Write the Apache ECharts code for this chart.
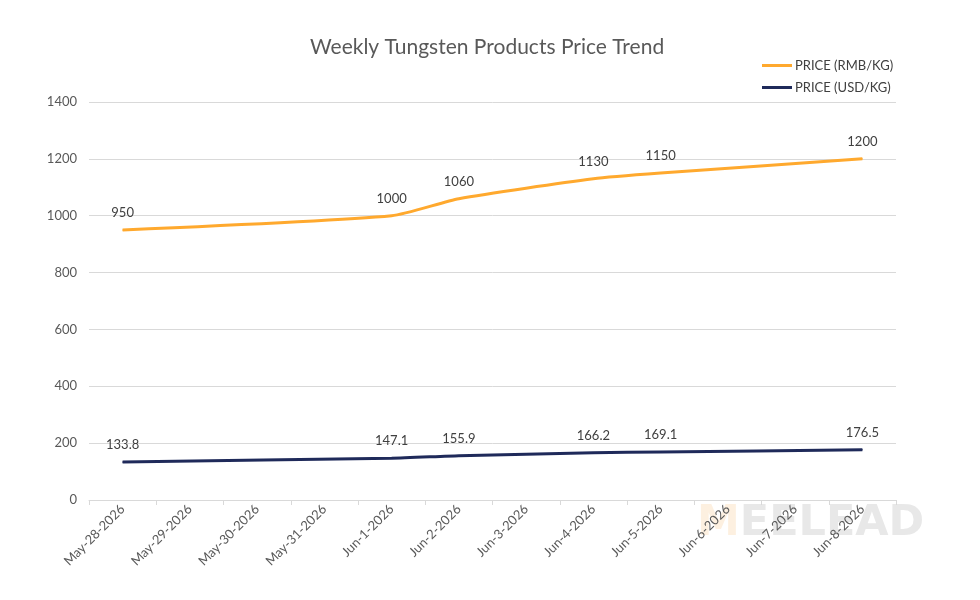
<!DOCTYPE html>
<html>
<head>
<meta charset="utf-8">
<script src="https://cdn.jsdelivr.net/npm/echarts@6/dist/echarts.min.js"></script>
<style>
  html, body { margin: 0; padding: 0; background: #fff; }
  #main { width: 980px; height: 600px; }
</style>
</head>
<body>
<div id="main"></div>
<script>
// 日期（x轴）
var dates = ['May-28-2026', 'May-29-2026', 'May-30-2026', 'May-31-2026', 'Jun-1-2026', 'Jun-2-2026',
             'Jun-3-2026', 'Jun-4-2026', 'Jun-5-2026', 'Jun-6-2026', 'Jun-7-2026', 'Jun-8-2026'];
// 人民币价格，没有报价的日期为 null
var rmbPrice = [950, null, null, null, 1000, 1060, null, 1130, 1150, null, null, 1200];
// 美元价格
var usdPrice = [133.8, null, null, null, 147.1, 155.9, null, 166.2, 169.1, null, null, 176.5];
var yTicks = [0, 200, 400, 600, 800, 1000, 1200, 1400];

var myChart = echarts.init(document.getElementById('main'));

var font = 'Lato, "Open Sans", sans-serif';

var option = {
    backgroundColor: '#fff',
    textStyle: { fontFamily: font },
    title: {
        text: 'Weekly Tungsten Products Price Trend',
        left: 305,
        top: 32,
        textStyle: { fontFamily: font, fontSize: 21, fontWeight: 'normal', color: '#595959' }
    },
    legend: {
        orient: 'vertical',
        left: 757,
        top: 54,
        itemGap: 9,
        itemWidth: 30,
        itemHeight: 14,
        textStyle: { fontFamily: font, fontSize: 13, color: '#404040', padding: [0, 0, 0, -2] },
        data: [
            { name: 'PRICE (RMB/KG)', icon: 'path://M0,6 L30,6 L30,9 L0,9 Z' },
            { name: 'PRICE (USD/KG)', icon: 'path://M0,6 L30,6 L30,9 L0,9 Z' }
        ]
    },
    grid: { left: 89, right: 84, top: 102, bottom: 100 },
    xAxis: {
        type: 'category',
        boundaryGap: true,
        data: dates,
        axisLine: { lineStyle: { color: '#d9d9d9', width: 1 } },
        axisTick: { show: true, length: 5, lineStyle: { color: '#d9d9d9' } },
        axisLabel: {
            interval: 0,
            rotate: 45,
            margin: 7,
            fontFamily: font,
            fontSize: 13,
            color: '#595959'
        }
    },
    yAxis: {
        type: 'value',
        min: yTicks[0],
        max: yTicks[yTicks.length - 1],
        interval: 200,
        axisLine: { show: false },
        axisTick: { show: false },
        axisLabel: {
            fontFamily: font, fontSize: 13, color: '#595959', margin: 12,
            formatter: function (v) { return String(v); }
        },
        splitLine: { lineStyle: { color: '#d9d9d9', width: 1 } }
    },
    series: [
        {
            name: 'PRICE (RMB/KG)',
            type: 'line',
            data: rmbPrice,
            connectNulls: true,
            smooth: 0.2,
            symbol: 'circle',
            symbolSize: 1,
            showAllSymbol: true,
            itemStyle: { color: '#FFA92E' },
            lineStyle: { color: '#FFA92E', width: 3 },
            label: {
                show: true,
                position: 'top',
                distance: 10,
                fontFamily: font,
                fontSize: 13,
                color: '#404040'
            }
        },
        {
            name: 'PRICE (USD/KG)',
            type: 'line',
            data: usdPrice,
            connectNulls: true,
            smooth: 0.2,
            symbol: 'circle',
            symbolSize: 1,
            showAllSymbol: true,
            itemStyle: { color: '#1F2A5A' },
            lineStyle: { color: '#1F2A5A', width: 3 },
            label: {
                show: true,
                position: 'top',
                distance: 10,
                fontFamily: font,
                fontSize: 13,
                color: '#404040'
            }
        }
    ],
    // 右下角水印
    graphic: [{
        type: 'text',
        left: 697,
        top: 502,
        z: -1,
        silent: true,
        style: {
            text: '{m|M}{t|EELEAD}',
            rich: {
                m: { fontFamily: 'DejaVu Sans', fontWeight: 'bold', fontSize: 43, fill: '#fdf0e0' },
                t: { fontFamily: 'DejaVu Sans', fontWeight: 'bold', fontSize: 43, fill: '#e8e8e8' }
            }
        }
    }]
};

myChart.setOption(option);
</script>
</body>
</html>
